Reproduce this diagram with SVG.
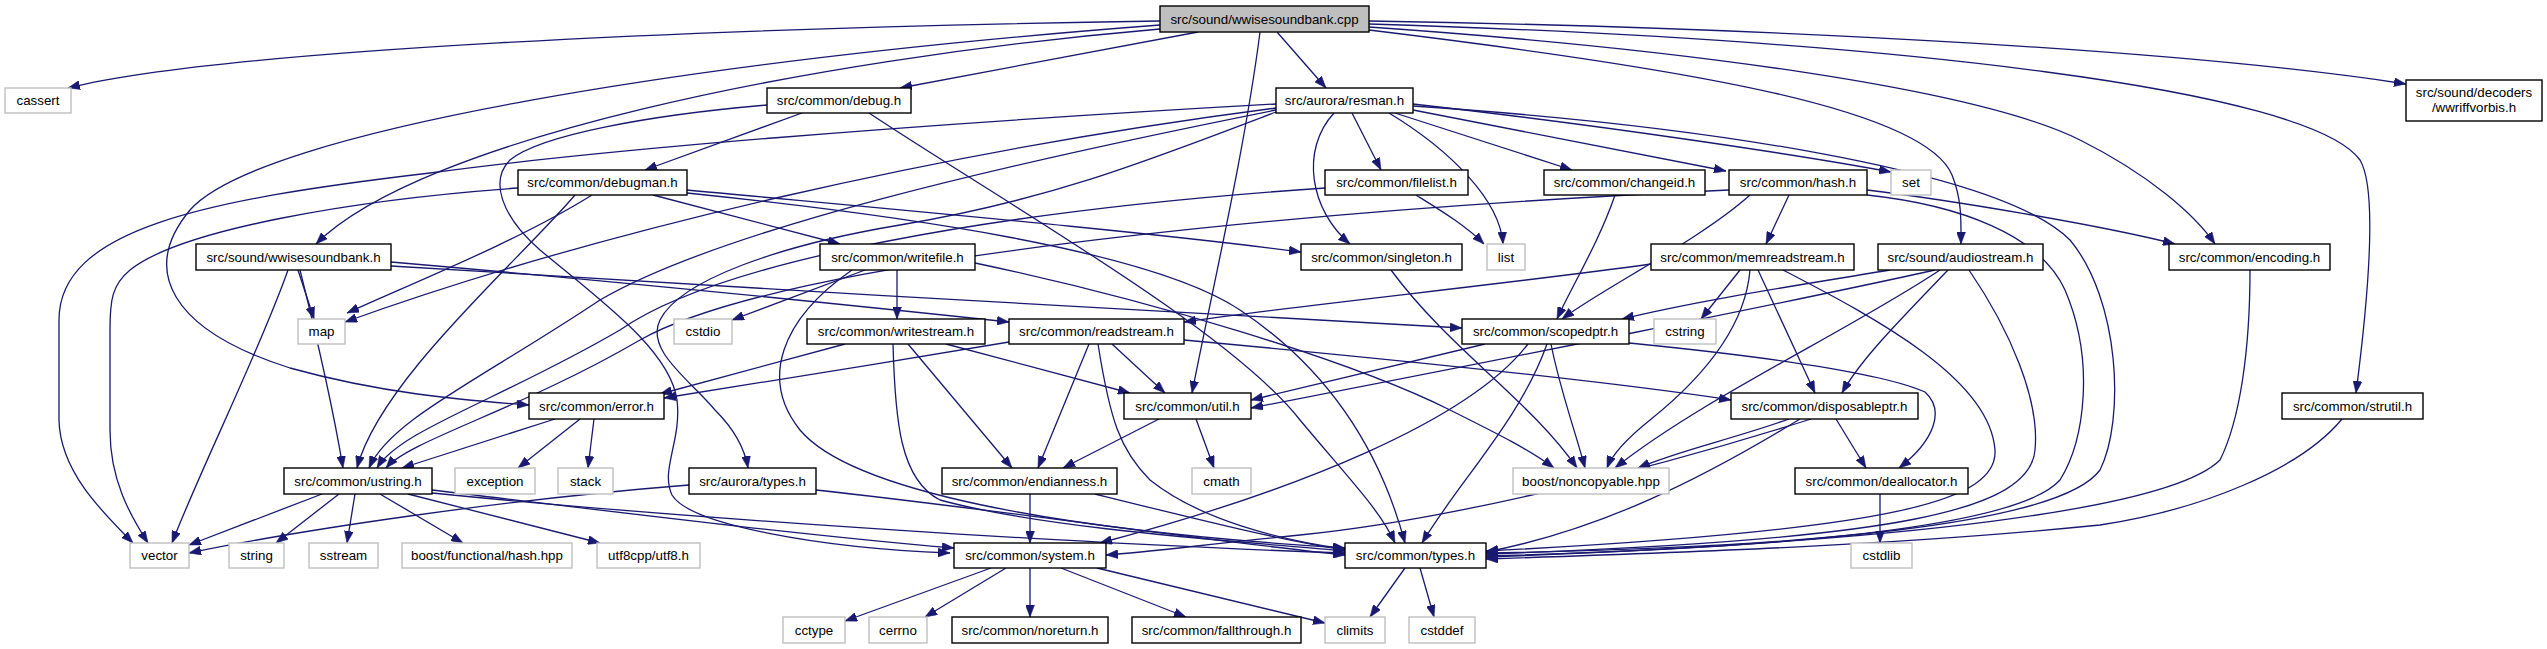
<svg xmlns="http://www.w3.org/2000/svg" width="2547" height="649" viewBox="0 0 2547 649">
<defs>
<style>
.n rect{fill:#fff;stroke:#000;stroke-width:1.4}
.x rect{fill:#fff;stroke:#bfbfbf;stroke-width:1.4}
.r rect{fill:#bfbfbf;stroke:#000;stroke-width:1.4}
text{font-family:"Liberation Sans",Arial,Helvetica,sans-serif;font-size:13.33px;fill:#000;text-anchor:middle}
#edges path{fill:none;stroke:#191970;stroke-width:1.3;marker-end:url(#a)}
</style>
<marker id="a" markerWidth="12" markerHeight="9" refX="12" refY="4.5" orient="auto" markerUnits="userSpaceOnUse"><path d="M0,0 L12,4.5 L0,9 z" fill="#191970" stroke="#191970" stroke-width="0.5"/></marker>
</defs>
<rect width="2547" height="649" fill="#fff"/>
<g id="edges">
<path d="M1160,21 C700,28 220,50 68,88"/>
<path d="M1198,32 L900,88"/>
<path d="M1277,32 L1326,88"/>
<path d="M1260,32 C1245,150 1210,300 1192,393"/>
<path d="M1160,25 C700,60 260,130 190,210 C140,270 170,330 290,368 C380,393 460,400 529,405"/>
<path d="M1160,29 C800,60 420,140 316,244"/>
<path d="M1369,30 C1700,70 1925,110 1952,175 C1962,200 1961,220 1961,244"/>
<path d="M1369,27 C1700,50 1980,90 2080,140 C2150,175 2195,215 2215,244"/>
<path d="M1369,24 C1900,40 2310,90 2360,160 C2378,190 2368,300 2356,393"/>
<path d="M1369,21 C1800,28 2200,52 2406,84"/>
<path d="M802,113 L645,170"/>
<path d="M869,113 C1000,200 1230,330 1300,420 C1350,480 1380,510 1395,543"/>
<path d="M767,105 C650,115 540,135 510,160 C490,180 500,215 540,250 C600,300 670,350 677,400 C682,440 660,470 672,495 C690,525 820,548 950,553"/>
<path d="M1276,104 C900,125 600,150 430,173 C200,200 59,230 59,320 L59,420 C60,470 100,510 133,543"/>
<path d="M1276,108 C950,150 600,230 345,322"/>
<path d="M1276,110 C1000,165 720,230 600,300 C480,380 390,420 369,468"/>
<path d="M1276,112 C1150,160 1050,200 900,225 C780,245 680,280 660,320 C645,350 690,380 715,410 C735,430 745,450 748,468"/>
<path d="M1352,113 L1381,170"/>
<path d="M1395,113 L1572,170"/>
<path d="M1413,110 L1726,171"/>
<path d="M1413,104 C1600,125 1800,155 1891,172"/>
<path d="M1389,113 C1450,150 1500,200 1503,244"/>
<path d="M1334,113 C1300,150 1310,210 1350,244"/>
<path d="M1413,106 C1700,125 2000,170 2070,240 C2120,300 2125,420 2100,470 C2060,525 1800,548 1486,553"/>
<path d="M518,188 C350,200 180,230 130,270 C112,285 110,300 110,330 L110,430 C110,480 130,515 148,543"/>
<path d="M592,195 C520,240 420,280 347,313"/>
<path d="M575,195 C520,260 380,380 357,468"/>
<path d="M687,190 C900,210 1150,232 1301,252"/>
<path d="M653,195 L840,244"/>
<path d="M687,193 C900,215 1150,250 1240,310 C1330,370 1380,450 1405,543"/>
<path d="M1416,195 C1440,210 1465,225 1484,244"/>
<path d="M1325,188 C1000,210 720,260 620,330 C500,400 400,430 377,468"/>
<path d="M1615,195 C1600,240 1570,290 1557,319"/>
<path d="M1729,190 C1400,205 800,250 640,340 C520,410 410,440 386,468"/>
<path d="M1789,195 L1766,244"/>
<path d="M1750,195 C1700,240 1600,290 1562,319"/>
<path d="M1867,190 C1950,200 2100,225 2175,244"/>
<path d="M1867,195 C1960,205 2040,235 2065,290 C2095,360 2085,440 2060,480 C2020,525 1800,548 1486,556"/>
<path d="M288,270 C260,350 200,470 172,543"/>
<path d="M298,270 L314,319"/>
<path d="M300,270 C320,350 335,420 343,468"/>
<path d="M391,266 C700,285 1200,315 1462,328"/>
<path d="M391,262 C600,280 850,305 1009,322"/>
<path d="M865,270 L732,320"/>
<path d="M897,270 L897,319"/>
<path d="M852,270 C780,320 760,380 800,430 C850,490 1050,530 1345,548"/>
<path d="M975,263 C1150,300 1350,360 1450,410 C1500,435 1530,450 1554,468"/>
<path d="M1391,270 C1450,350 1530,400 1577,468"/>
<path d="M1651,264 C1500,285 1300,305 1184,322"/>
<path d="M1740,270 L1701,319"/>
<path d="M1750,270 C1745,330 1700,380 1650,420 C1625,440 1612,455 1607,468"/>
<path d="M1758,270 L1815,393"/>
<path d="M1783,270 C1880,320 1990,380 1995,450 C1998,500 1900,530 1486,551"/>
<path d="M1890,270 C1800,285 1700,300 1622,319"/>
<path d="M1935,270 C1800,300 1500,360 1251,408"/>
<path d="M1940,270 C1850,330 1700,400 1615,468"/>
<path d="M1948,270 C1900,320 1860,360 1842,393"/>
<path d="M1969,270 C2010,330 2040,400 2035,450 C2030,510 1900,540 1486,554"/>
<path d="M2250,270 C2250,350 2240,420 2220,460 C2170,510 1900,542 1486,557"/>
<path d="M845,344 L660,394"/>
<path d="M893,344 C895,420 900,480 940,500 C1050,530 1250,542 1345,551"/>
<path d="M908,344 L1012,468"/>
<path d="M946,344 L1130,393"/>
<path d="M1009,342 C900,360 750,385 664,398"/>
<path d="M1089,344 L1038,468"/>
<path d="M1098,344 C1110,420 1120,450 1150,480 C1200,520 1280,540 1345,549"/>
<path d="M1112,344 L1165,393"/>
<path d="M1184,340 C1400,360 1600,380 1731,400"/>
<path d="M1485,344 L1251,400"/>
<path d="M1528,344 C1470,420 1300,490 1100,543"/>
<path d="M1547,344 C1520,420 1460,480 1422,543"/>
<path d="M1551,344 C1560,390 1575,430 1585,468"/>
<path d="M1629,343 C1750,355 1880,372 1925,392 C1945,410 1935,440 1899,468"/>
<path d="M555,419 L402,468"/>
<path d="M580,419 L518,468"/>
<path d="M594,419 L588,468"/>
<path d="M1159,419 L1063,468"/>
<path d="M1196,419 L1214,468"/>
<path d="M1789,419 C1730,440 1680,450 1638,468"/>
<path d="M1800,419 C1700,480 1600,530 1486,552"/>
<path d="M1811,419 C1650,470 1450,520 1300,535 C1200,545 1150,552 1106,555"/>
<path d="M1836,419 L1866,468"/>
<path d="M2342,419 C2300,470 2200,510 2100,525 C1900,545 1700,552 1486,559"/>
<path d="M322,494 L189,545"/>
<path d="M339,494 L276,543"/>
<path d="M355,494 L347,543"/>
<path d="M380,494 L463,543"/>
<path d="M408,494 L600,543"/>
<path d="M432,490 C600,510 800,535 954,548"/>
<path d="M432,493 C700,520 1100,545 1345,553"/>
<path d="M689,485 C500,500 300,530 189,553"/>
<path d="M816,490 C1000,510 1200,540 1345,555"/>
<path d="M1030,494 L1030,543"/>
<path d="M1095,494 C1200,520 1280,540 1345,550"/>
<path d="M1880,494 L1880,543"/>
<path d="M991,568 L845,621"/>
<path d="M1006,568 L925,617"/>
<path d="M1030,568 L1030,617"/>
<path d="M1061,568 L1186,617"/>
<path d="M1097,568 L1325,623"/>
<path d="M1405,568 L1370,617"/>
<path d="M1420,568 L1434,617"/>
</g>
<g id="root" class="r"><rect x="1160" y="6" width="209" height="26"/><text x="1264.5" y="23.5">src/sound/wwisesoundbank.cpp</text></g>
<g id="cassert" class="x"><rect x="5" y="88" width="66" height="25"/><text x="38" y="105">cassert</text></g>
<g id="debug" class="n"><rect x="767" y="88" width="144" height="25"/><text x="839" y="105">src/common/debug.h</text></g>
<g id="resman" class="n"><rect x="1276" y="88" width="137" height="25"/><text x="1344.5" y="105">src/aurora/resman.h</text></g>
<g id="wwriffvorbis" class="n"><rect x="2406" y="80" width="136" height="41"/><text x="2474" y="97">src/sound/decoders</text><text x="2474" y="112">/wwriffvorbis.h</text></g>
<g id="debugman" class="n"><rect x="518" y="170" width="169" height="25"/><text x="602.5" y="187">src/common/debugman.h</text></g>
<g id="filelist" class="n"><rect x="1325" y="170" width="143" height="25"/><text x="1396.5" y="187">src/common/filelist.h</text></g>
<g id="changeid" class="n"><rect x="1544" y="170" width="161" height="25"/><text x="1624.5" y="187">src/common/changeid.h</text></g>
<g id="hash" class="n"><rect x="1729" y="170" width="138" height="25"/><text x="1798" y="187">src/common/hash.h</text></g>
<g id="set" class="x"><rect x="1891" y="170" width="40" height="25"/><text x="1911" y="187">set</text></g>
<g id="wwisesoundbank_h" class="n"><rect x="196" y="244" width="195" height="26"/><text x="293.5" y="261.5">src/sound/wwisesoundbank.h</text></g>
<g id="writefile" class="n"><rect x="820" y="244" width="155" height="26"/><text x="897.5" y="261.5">src/common/writefile.h</text></g>
<g id="singleton" class="n"><rect x="1301" y="244" width="161" height="26"/><text x="1381.5" y="261.5">src/common/singleton.h</text></g>
<g id="list" class="x"><rect x="1487" y="244" width="38" height="26"/><text x="1506" y="261.5">list</text></g>
<g id="memreadstream" class="n"><rect x="1651" y="244" width="203" height="26"/><text x="1752.5" y="261.5">src/common/memreadstream.h</text></g>
<g id="audiostream" class="n"><rect x="1878" y="244" width="165" height="26"/><text x="1960.5" y="261.5">src/sound/audiostream.h</text></g>
<g id="encoding" class="n"><rect x="2169" y="244" width="161" height="26"/><text x="2249.5" y="261.5">src/common/encoding.h</text></g>
<g id="map" class="x"><rect x="298" y="319" width="47" height="25"/><text x="321.5" y="336">map</text></g>
<g id="cstdio" class="x"><rect x="674" y="319" width="58" height="25"/><text x="703" y="336">cstdio</text></g>
<g id="writestream" class="n"><rect x="807" y="319" width="178" height="25"/><text x="896" y="336">src/common/writestream.h</text></g>
<g id="readstream" class="n"><rect x="1009" y="319" width="175" height="25"/><text x="1096.5" y="336">src/common/readstream.h</text></g>
<g id="scopedptr" class="n"><rect x="1462" y="319" width="167" height="25"/><text x="1545.5" y="336">src/common/scopedptr.h</text></g>
<g id="cstring" class="x"><rect x="1654" y="319" width="62" height="25"/><text x="1685" y="336">cstring</text></g>
<g id="error" class="n"><rect x="529" y="393" width="135" height="26"/><text x="596.5" y="410.5">src/common/error.h</text></g>
<g id="util" class="n"><rect x="1124" y="393" width="127" height="26"/><text x="1187.5" y="410.5">src/common/util.h</text></g>
<g id="disposableptr" class="n"><rect x="1731" y="393" width="187" height="26"/><text x="1824.5" y="410.5">src/common/disposableptr.h</text></g>
<g id="strutil" class="n"><rect x="2282" y="393" width="141" height="26"/><text x="2352.5" y="410.5">src/common/strutil.h</text></g>
<g id="ustring" class="n"><rect x="284" y="468" width="148" height="26"/><text x="358" y="485.5">src/common/ustring.h</text></g>
<g id="exception" class="x"><rect x="455" y="468" width="80" height="26"/><text x="495" y="485.5">exception</text></g>
<g id="stack" class="x"><rect x="558" y="468" width="55" height="26"/><text x="585.5" y="485.5">stack</text></g>
<g id="aurora_types" class="n"><rect x="689" y="468" width="127" height="26"/><text x="752.5" y="485.5">src/aurora/types.h</text></g>
<g id="endianness" class="n"><rect x="942" y="468" width="175" height="26"/><text x="1029.5" y="485.5">src/common/endianness.h</text></g>
<g id="cmath" class="x"><rect x="1192" y="468" width="59" height="26"/><text x="1221.5" y="485.5">cmath</text></g>
<g id="noncopyable" class="x"><rect x="1513" y="468" width="156" height="26"/><text x="1591" y="485.5">boost/noncopyable.hpp</text></g>
<g id="deallocator" class="n"><rect x="1795" y="468" width="173" height="26"/><text x="1881.5" y="485.5">src/common/deallocator.h</text></g>
<g id="vector" class="x"><rect x="130" y="543" width="59" height="25"/><text x="159.5" y="560">vector</text></g>
<g id="string" class="x"><rect x="229" y="543" width="55" height="25"/><text x="256.5" y="560">string</text></g>
<g id="sstream" class="x"><rect x="309" y="543" width="69" height="25"/><text x="343.5" y="560">sstream</text></g>
<g id="boost_hash" class="x"><rect x="402" y="543" width="170" height="25"/><text x="487" y="560">boost/functional/hash.hpp</text></g>
<g id="utf8" class="x"><rect x="597" y="543" width="103" height="25"/><text x="648.5" y="560">utf8cpp/utf8.h</text></g>
<g id="system" class="n"><rect x="954" y="543" width="152" height="25"/><text x="1030" y="560">src/common/system.h</text></g>
<g id="types" class="n"><rect x="1345" y="543" width="141" height="25"/><text x="1415.5" y="560">src/common/types.h</text></g>
<g id="cstdlib" class="x"><rect x="1851" y="543" width="61" height="25"/><text x="1881.5" y="560">cstdlib</text></g>
<g id="cctype" class="x"><rect x="783" y="617" width="62" height="26"/><text x="814" y="634.5">cctype</text></g>
<g id="cerrno" class="x"><rect x="869" y="617" width="58" height="26"/><text x="898" y="634.5">cerrno</text></g>
<g id="noreturn" class="n"><rect x="952" y="617" width="156" height="26"/><text x="1030" y="634.5">src/common/noreturn.h</text></g>
<g id="fallthrough" class="n"><rect x="1132" y="617" width="169" height="26"/><text x="1216.5" y="634.5">src/common/fallthrough.h</text></g>
<g id="climits" class="x"><rect x="1325" y="617" width="60" height="26"/><text x="1355" y="634.5">climits</text></g>
<g id="cstddef" class="x"><rect x="1409" y="617" width="66" height="26"/><text x="1442" y="634.5">cstddef</text></g>
</svg>
